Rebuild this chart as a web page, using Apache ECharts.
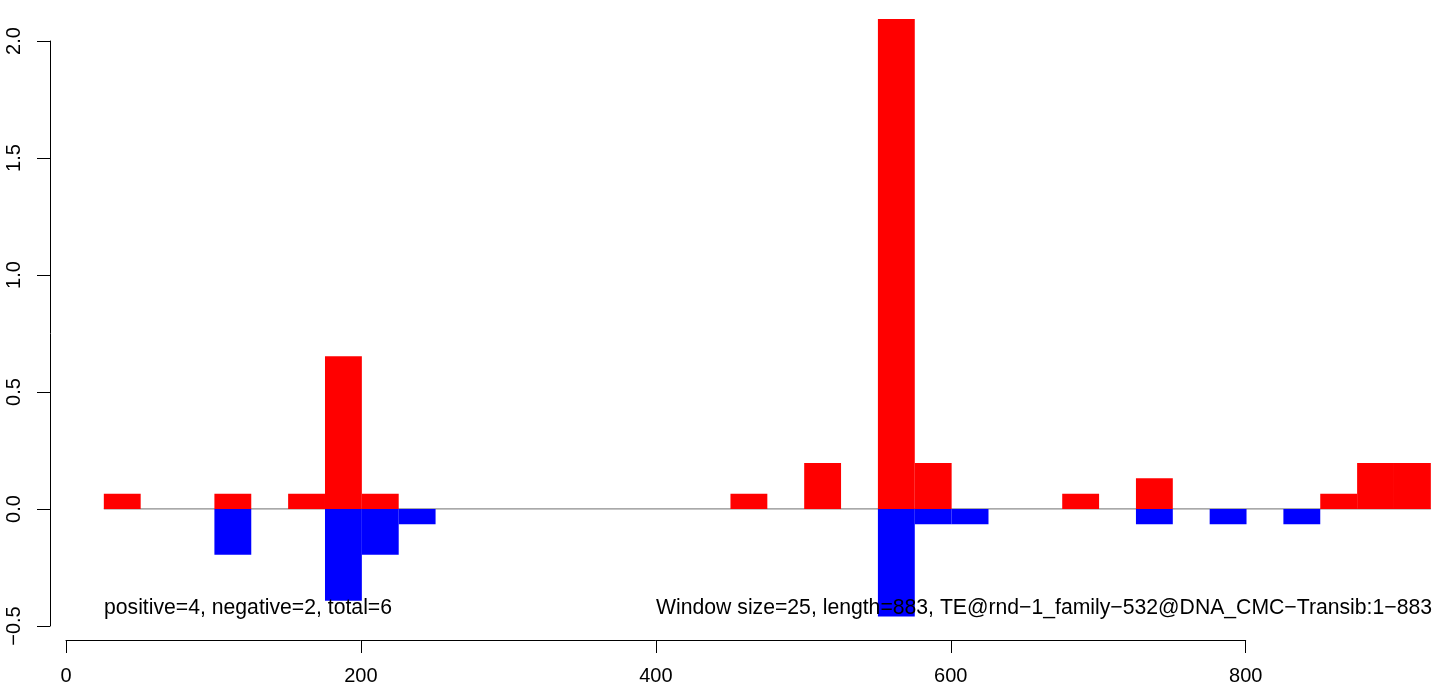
<!DOCTYPE html>
<html>
<head>
<meta charset="utf-8">
<script src="https://cdn.jsdelivr.net/npm/echarts@6/dist/echarts.min.js"></script>
<style>
html, body { margin: 0; padding: 0; background: #fff; }
#chart { width: 1436px; height: 686px; }
</style>
</head>
<body>
<div id="chart"></div>
<script>
// ---- data ----
const binWidth = 25;
const posStarts = [25, 100, 150, 175, 200, 450, 500, 550, 575, 675, 725, 850, 875, 900];
const posValues = [0.065, 0.065, 0.065, 0.653, 0.065, 0.065, 0.196, 2.094, 0.196, 0.065, 0.131, 0.065, 0.196, 0.196];
const negStarts = [100, 175, 200, 225, 550, 575, 600, 725, 775, 825];
const negValues = [-0.196, -0.392, -0.196, -0.065, -0.46, -0.065, -0.065, -0.065, -0.065, -0.065];
const xTicks = [0, 200, 400, 600, 800];
const yTicks = [-0.5, 0.0, 0.5, 1.0, 1.5, 2.0];
const leftNote = 'positive=4, negative=2, total=6';
const rightNote = 'Window size=25, length=883, TE@rnd\u22121_family\u2212532@DNA_CMC\u2212Transib:1\u2212883';

const FONT = '"Liberation Sans", Arial, Helvetica, sans-serif';

const posData = posStarts.map((s, i) => [s, s + binWidth, posValues[i]]);
const negData = negStarts.map((s, i) => [s, s + binWidth, negValues[i]]);
const allStarts = posStarts.concat(negStarts);
const baseStart = Math.min(...allStarts);
const baseEnd = Math.max(...allStarts) + binWidth;

function rectItem(color) {
  return function (params, api) {
    const p0 = api.coord([api.value(0), 0]);
    const p1 = api.coord([api.value(1), api.value(2)]);
    const x = Math.min(p0[0], p1[0]);
    const y = Math.min(p0[1], p1[1]);
    return {
      type: 'rect',
      shape: { x: x, y: y, width: Math.abs(p1[0] - p0[0]), height: Math.abs(p1[1] - p0[1]) },
      style: { fill: color }
    };
  };
}

const fmt = v => (v < 0 ? '\u2212' : '') + Math.abs(v).toFixed(1);

const chart = echarts.init(document.getElementById('chart'), null, { renderer: 'canvas' });
chart.setOption({
  animation: false,
  backgroundColor: '#ffffff',
  grid: [
    { left: 50, right: 0, top: 0, bottom: 46 },                 // data region
    { left: 66, right: 190.3, top: 0, bottom: 46 },             // x axis 0..800
    { left: 50, right: 1000, top: 41, bottom: 60 }              // y axis -0.5..2.0
  ],
  xAxis: [
    { gridIndex: 0, type: 'value', min: -11.5, max: 928.5, show: false },
    { gridIndex: 1, type: 'value', min: xTicks[0], max: xTicks[xTicks.length - 1], interval: 200,
      axisLine: { show: true, onZero: false, lineStyle: { color: '#000', width: 1 } },
      axisTick: { show: true, length: 13, lineStyle: { color: '#000', width: 1 } },
      axisLabel: { show: true, margin: 26, color: '#000', fontSize: 20, fontFamily: FONT },
      splitLine: { show: false } },
    { gridIndex: 2, type: 'value', min: 0, max: 1, show: false }
  ],
  yAxis: [
    { gridIndex: 0, type: 'value', min: -0.56, max: 2.175, show: false },
    { gridIndex: 1, type: 'value', min: 0, max: 1, show: false },
    { gridIndex: 2, type: 'value', min: yTicks[0], max: yTicks[yTicks.length - 1], interval: 0.5,
      axisLine: { show: true, onZero: false, lineStyle: { color: '#000', width: 1 } },
      axisTick: { show: true, length: 13, lineStyle: { color: '#000', width: 1 } },
      axisLabel: { show: true, rotate: 90, margin: 26, color: '#000', fontSize: 20, fontFamily: FONT,
                   formatter: fmt },
      splitLine: { show: false } }
  ],
  series: [
    { type: 'line', xAxisIndex: 0, yAxisIndex: 0, data: [[baseStart, 0], [baseEnd, 0]],
      symbol: 'none', lineStyle: { color: '#8c8c8c', width: 1.3 }, silent: true, z: 1 },
    { type: 'custom', xAxisIndex: 0, yAxisIndex: 0, renderItem: rectItem('#ff0000'), data: posData, z: 2 },
    { type: 'custom', xAxisIndex: 0, yAxisIndex: 0, renderItem: rectItem('#0000ff'), data: negData, z: 2 }
  ],
  graphic: [
    { type: 'text', left: 104, top: 598, z: 10,
      style: { text: leftNote, fill: '#000', font: '21.2px ' + FONT } },
    { type: 'text', right: 4, top: 598, z: 10,
      style: { text: rightNote, fill: '#000', font: '21.2px ' + FONT } }
  ]
});
</script>
</body>
</html>
